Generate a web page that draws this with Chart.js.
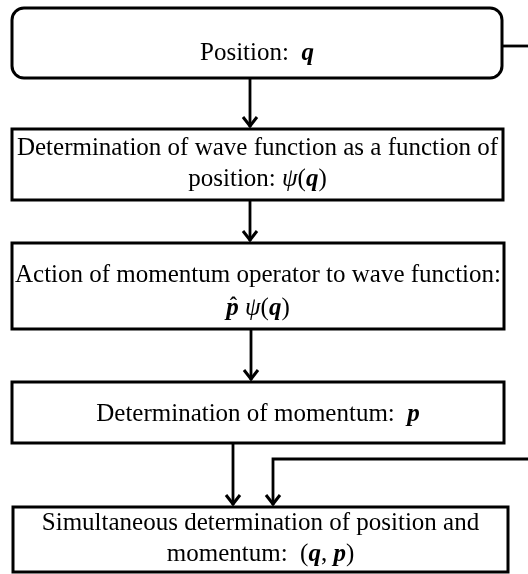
<!DOCTYPE html>
<html>
<head>
<meta charset="utf-8">
<script src="https://cdn.jsdelivr.net/npm/chart.js@4.4.1/dist/chart.umd.min.js"></script>
<style>
  html, body { margin: 0; padding: 0; background: #ffffff; }
  #wrap { width: 528px; height: 574px; }
</style>
</head>
<body>
<div id="wrap"><canvas id="flow" width="528" height="574"></canvas></div>
<script>
// box texts, one array of lines per box; **x** = bold italic, _x_ = italic, ^x = hat
var BOX_LINES = [
    ["Position:  **q**"],
    ["Determination of wave function as a function of", "position: _ψ_(**q**)"],
    ["Action of momentum operator to wave function:", "^p _ψ_(**q**)"],
    ["Determination of momentum:  **p**"],
    ["Simultaneous determination of position and", "momentum:  (**q**, **p**)"]
];
var BOX_LEFT = [12, 12, 12, 12, 13];
var BOX_RIGHT = [502, 503, 504, 504, 508];
var BOX_TOP = [8, 129, 243, 382, 507];
var BOX_BOTTOM = [78, 200, 329, 443, 572];
var BOX_BASELINES = [[60], [155, 186], [282, 315], [421], [530, 561]];

// connectors as polylines [x, y]
var LINKS = [
    [[250, 78], [250, 127]],
    [[250, 200], [250, 241]],
    [[251, 329], [251, 380]],
    [[233, 443], [233, 505]],
    [[528, 459], [273, 459], [273, 505]],
    [[502, 46], [528, 46]]
];
var LINK_ARROW = [true, true, true, true, true, false];

function parseRuns(line) {
    var runs = [];
    var i = 0;
    while (i < line.length) {
        if (line.substr(i, 2) === "**") {
            var e = line.indexOf("**", i + 2);
            runs.push({ t: line.substring(i + 2, e), f: "italic bold" });
            i = e + 2;
        } else if (line[i] === "_") {
            var e2 = line.indexOf("_", i + 1);
            runs.push({ t: line.substring(i + 1, e2), f: "italic" });
            i = e2 + 1;
        } else if (line[i] === "^") {
            runs.push({ t: line[i + 1], f: "italic bold", hat: true });
            i += 2;
        } else {
            var j = i;
            while (j < line.length && line.substr(j, 2) !== "**" && line[j] !== "_" && line[j] !== "^") j++;
            runs.push({ t: line.substring(i, j), f: "" });
            i = j;
        }
    }
    return runs;
}

var FONT = "25px 'Liberation Serif', 'Times New Roman', serif";

var flowPlugin = {
    id: "flow",
    afterDatasetsDraw: function (chart) {
        var ctx = chart.ctx;
        var xs = chart.scales.x;
        var ys = chart.scales.y;
        ctx.save();
        ctx.strokeStyle = "#000";
        ctx.fillStyle = "#000";

        // boxes
        BOX_LINES.forEach(function (lines, b) {
            var x0 = xs.getPixelForValue(BOX_LEFT[b]);
            var x1 = xs.getPixelForValue(BOX_RIGHT[b]);
            var y0 = ys.getPixelForValue(BOX_TOP[b]);
            var y1 = ys.getPixelForValue(BOX_BOTTOM[b]);
            ctx.lineWidth = 3;
            ctx.beginPath();
            if (b === 0) {
                ctx.roundRect(x0, y0, x1 - x0, y1 - y0, 12);
            } else {
                ctx.rect(x0, y0, x1 - x0, y1 - y0);
            }
            ctx.stroke();

            var cx = (x0 + x1) / 2;
            lines.forEach(function (line, li) {
                var runs = parseRuns(line);
                var total = 0;
                runs.forEach(function (r) {
                    ctx.font = (r.f ? r.f + " " : "") + FONT;
                    r.w = ctx.measureText(r.t).width;
                    total += r.w;
                });
                var x = cx - total / 2;
                var y = ys.getPixelForValue(BOX_BASELINES[b][li]);
                ctx.textBaseline = "alphabetic";
                ctx.textAlign = "left";
                runs.forEach(function (r) {
                    ctx.font = (r.f ? r.f + " " : "") + FONT;
                    ctx.fillText(r.t, x, y);
                    if (r.hat) {
                        ctx.font = "bold 22px 'Liberation Serif', serif";
                        ctx.textAlign = "center";
                        ctx.fillText("ˆ", x + r.w / 2 + 1, y - 3);
                        ctx.textAlign = "left";
                    }
                    x += r.w;
                });
            });
        });

        // arrow heads
        ctx.lineWidth = 3;
        LINKS.forEach(function (pts, k) {
            if (!LINK_ARROW[k]) return;
            var p = pts[pts.length - 1];
            var px = xs.getPixelForValue(p[0]);
            var py = ys.getPixelForValue(p[1]);
            ctx.beginPath();
            ctx.moveTo(px - 7, py - 10);
            ctx.lineTo(px, py - 1);
            ctx.lineTo(px + 7, py - 10);
            ctx.stroke();
        });
        ctx.restore();
    }
};

var datasets = LINKS.map(function (pts) {
    return {
        data: pts.map(function (p) { return { x: p[0], y: p[1] }; }),
        showLine: true,
        borderColor: "#000",
        borderWidth: 2.8,
        pointRadius: 0,
        tension: 0,
        fill: false
    };
});

new Chart(document.getElementById("flow").getContext("2d"), {
    type: "scatter",
    data: { datasets: datasets },
    options: {
        responsive: false,
        animation: false,
        layout: { padding: 0 },
        plugins: { legend: { display: false }, tooltip: { enabled: false } },
        scales: {
            x: { type: "linear", min: 0, max: 528, display: false },
            y: { type: "linear", min: 0, max: 574, reverse: true, display: false }
        }
    },
    plugins: [flowPlugin]
});
</script>
</body>
</html>
